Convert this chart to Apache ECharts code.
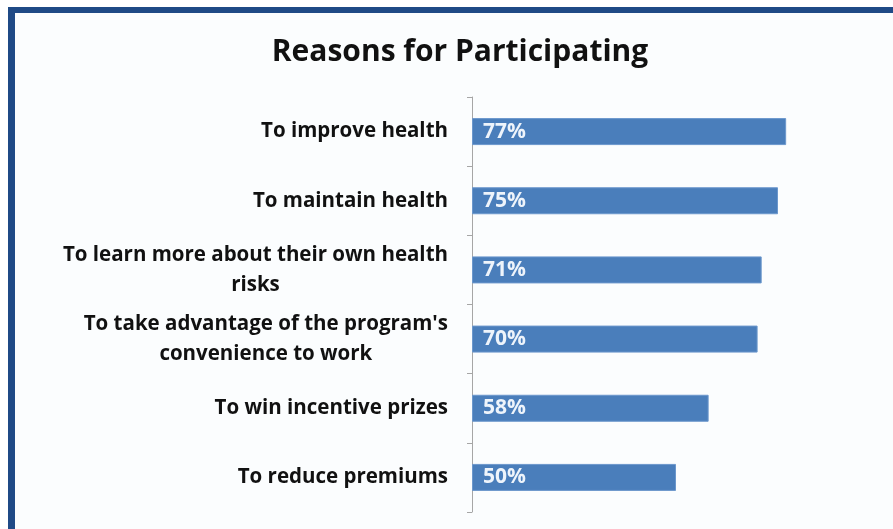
<!DOCTYPE html>
<html>
<head>
<meta charset="utf-8">
<script src="https://cdn.jsdelivr.net/npm/echarts@6/dist/echarts.min.js"></script>
<style>
html,body{margin:0;padding:0;background:#ffffff;}
#chart{width:893px;height:529px;}
</style>
</head>
<body>
<div id="chart"></div>
<script>
var titleText = 'Reasons for Participating';
var categories = [
  'To improve health',
  'To maintain health',
  'To learn more about their own health\nrisks',
  "To take advantage of the program's\nconvenience to work",
  'To win incentive prizes',
  'To reduce premiums'
];
var values = [77, 75, 71, 70, 58, 50];

var chart = echarts.init(document.getElementById('chart'), null, {renderer: 'canvas'});
var FONT = '"Open Sans"';
var option = {
  backgroundColor: '#ffffff',
  animation: false,
  graphic: [
    {type: 'rect', shape: {x: 15, y: 13, width: 878, height: 516}, style: {fill: '#fbfdfe'}, z: -10},
    {type: 'rect', shape: {x: 8, y: 7, width: 885, height: 6}, style: {fill: '#1f4a86'}},
    {type: 'rect', shape: {x: 8, y: 7, width: 7, height: 522}, style: {fill: '#1f4a86'}},
    {type: 'text', x: 460, y: 52, style: {text: titleText, font: 'bold 30px ' + FONT, fill: '#111111', textAlign: 'center', textVerticalAlign: 'middle'}}
  ],
  grid: {left: 472, right: 13, top: 97, bottom: 17, containLabel: false},
  xAxis: {
    type: 'value', min: 0, max: 100, show: false
  },
  yAxis: {
    type: 'category',
    data: categories,
    inverse: true,
    axisLine: {show: true, lineStyle: {color: '#a6a6a6', width: 1}},
    axisTick: {show: true, length: 5, lineStyle: {color: '#a6a6a6'}},
    axisLabel: {
      margin: 24,
      formatter: function (v) { return '{c|' + v + '}'; },
      rich: {c: {align: 'center', fontFamily: FONT, fontWeight: 'bold', fontSize: 20.5, color: '#111111', lineHeight: 30}}
    },
    splitLine: {show: false}
  },
  series: [{
    type: 'bar',
    data: values,
    barWidth: 27,
    itemStyle: {color: '#4a7ebb', borderColor: '#6b97cc', borderWidth: 1},
    label: {
      show: true, position: 'insideLeft', distance: 11,
      formatter: '{c}%',
      fontFamily: FONT, fontWeight: 'bold', fontSize: 21, color: '#eef4fb'
    }
  }]
};
chart.setOption(option);
</script>
</body>
</html>
